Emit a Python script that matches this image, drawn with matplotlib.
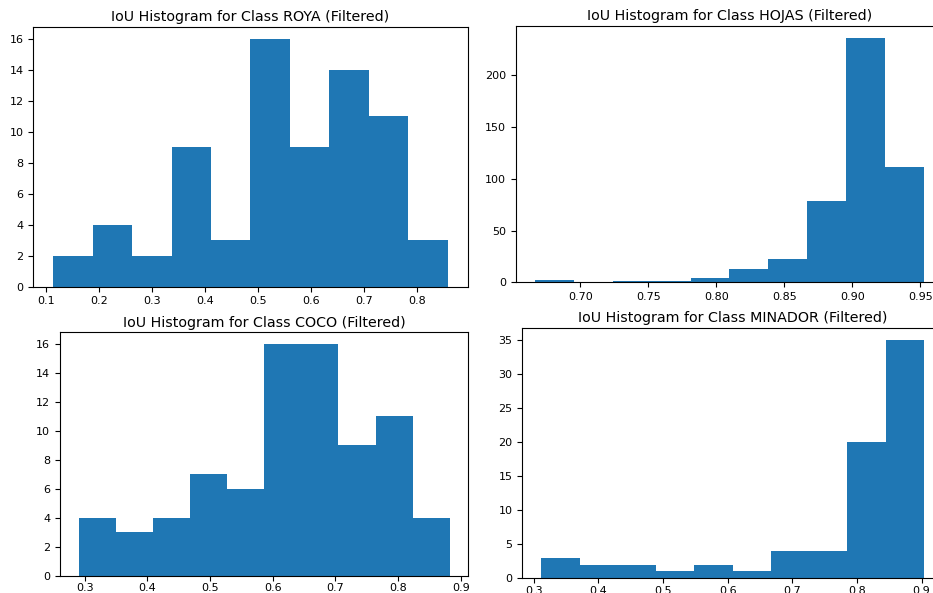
import numpy as np
import matplotlib
matplotlib.use("Agg")
import matplotlib.pyplot as plt

# Nombre de detections par intervalle d'IoU (10 intervalles par classe)
classes = ["ROYA", "HOJAS", "COCO", "MINADOR"]
iou_min = [0.1126, 0.6669, 0.2904, 0.3118]
iou_max = [0.8586, 0.9525, 0.8824, 0.9036]
roya_counts = [2, 4, 2, 9, 3, 16, 9, 14, 11, 3]
hojas_counts = [2, 0, 1, 1, 4, 13, 23, 79, 236, 111]
coco_counts = [4, 3, 4, 7, 6, 16, 16, 9, 11, 4]
minador_counts = [3, 2, 2, 1, 2, 1, 4, 4, 20, 35]
counts = [roya_counts, hojas_counts, coco_counts, minador_counts]

W, H = 933, 593
fig = plt.figure(figsize=(W / 100, H / 100), dpi=100)

# position des axes en pixels (gauche, haut, droite, bas)
boites = [(33.3, 26.7, 467.7, 286.7),
          (515.7, 26.0, 943.0, 282.3),
          (60.0, 332.3, 468.3, 575.7),
          (522.3, 327.7, 943.0, 578.3)]
# espace entre graduation et etiquette (axe x)
pads_x = [3.3, 3.3, 1.8, 1.8]

for i in range(4):
    g, h, d, b = boites[i]
    ax = fig.add_axes([g / W, (H - b) / H, (d - g) / W, (b - h) / H])
    bords = np.linspace(iou_min[i], iou_max[i], len(counts[i]) + 1)
    centres = (bords[:-1] + bords[1:]) / 2
    ax.hist(centres, bins=bords, weights=counts[i], color="#1f77b4")
    ax.set_title("IoU Histogram for Class %s (Filtered)" % classes[i], fontsize=10.3, pad=4)
    ax.tick_params(labelsize=8)
    ax.tick_params(axis="x", pad=pads_x[i])

plt.savefig("out.png", dpi=100)
